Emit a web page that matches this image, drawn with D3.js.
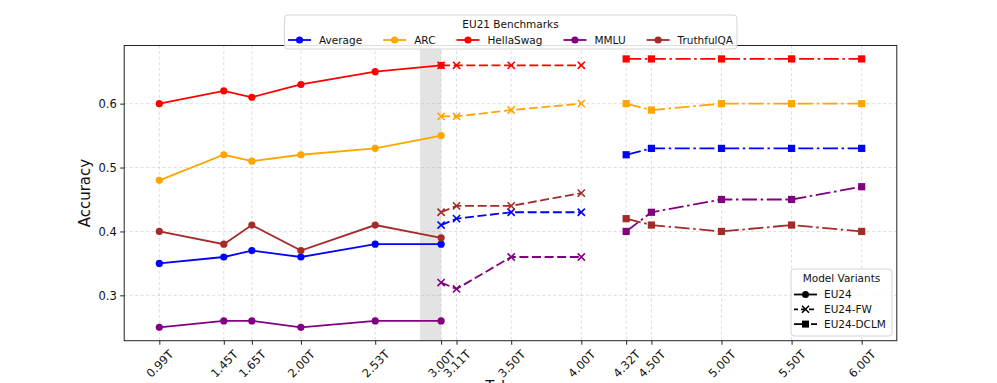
<!DOCTYPE html>
<html><head><meta charset="utf-8">
<script src="https://cdn.jsdelivr.net/npm/d3@7"></script>
<style>body{margin:0;background:#fff}svg{display:block;font-family:"DejaVu Sans",sans-serif}</style>
</head><body><svg id="chart" width="997" height="383"></svg>
<script>
// ---------- data ----------
const benchmarks = ["Average", "ARC", "HellaSwag", "MMLU", "TruthfulQA"];
const variants = ["EU24", "EU24-FW", "EU24-DCLM"];

const eu24Tokens = [0.99, 1.45, 1.65, 2.00, 2.53, 3.00];
const eu24Average    = [0.35, 0.36, 0.37, 0.36, 0.38, 0.38];
const eu24ARC        = [0.48, 0.52, 0.51, 0.52, 0.53, 0.55];
const eu24HellaSwag  = [0.60, 0.62, 0.61, 0.63, 0.65, 0.66];
const eu24MMLU       = [0.25, 0.26, 0.26, 0.25, 0.26, 0.26];
const eu24TruthfulQA = [0.40, 0.38, 0.41, 0.37, 0.41, 0.39];

const fwTokens = [3.00, 3.11, 3.50, 4.00];
const fwAverage    = [0.41, 0.42, 0.43, 0.43];
const fwARC        = [0.58, 0.58, 0.59, 0.60];
const fwHellaSwag  = [0.66, 0.66, 0.66, 0.66];
const fwMMLU       = [0.32, 0.31, 0.36, 0.36];
const fwTruthfulQA = [0.43, 0.44, 0.44, 0.46];

const dclmTokens = [4.32, 4.50, 5.00, 5.50, 6.00];
const dclmAverage    = [0.52, 0.53, 0.53, 0.53, 0.53];
const dclmARC        = [0.60, 0.59, 0.60, 0.60, 0.60];
const dclmHellaSwag  = [0.67, 0.67, 0.67, 0.67, 0.67];
const dclmMMLU       = [0.40, 0.43, 0.45, 0.45, 0.47];
const dclmTruthfulQA = [0.42, 0.41, 0.40, 0.41, 0.40];

const xTickValues = [0.99, 1.45, 1.65, 2.00, 2.53, 3.00, 3.11, 3.50, 4.00, 4.32, 4.50, 5.00, 5.50, 6.00];
const yTickValues = [0.3, 0.4, 0.5, 0.6];
const highlightSpan = [2.85, 3.00];

// ---------- styles ----------
const colors = {Average: "#0000ff", ARC: "#ffa500", HellaSwag: "#ff0000", MMLU: "#800080", TruthfulQA: "#a52a2a"};
const variantStyle = {
  "EU24": {dash: null, marker: "circle"},
  "EU24-FW": {dash: "9,3.6", marker: "x"},
  "EU24-DCLM": {dash: "15,3.6,2.5,3.6", marker: "square"}
};
const valueTable = {
  "EU24": {tokens: eu24Tokens, Average: eu24Average, ARC: eu24ARC, HellaSwag: eu24HellaSwag, MMLU: eu24MMLU, TruthfulQA: eu24TruthfulQA},
  "EU24-FW": {tokens: fwTokens, Average: fwAverage, ARC: fwARC, HellaSwag: fwHellaSwag, MMLU: fwMMLU, TruthfulQA: fwTruthfulQA},
  "EU24-DCLM": {tokens: dclmTokens, Average: dclmAverage, ARC: dclmARC, HellaSwag: dclmHellaSwag, MMLU: dclmMMLU, TruthfulQA: dclmTruthfulQA}
};

// ---------- layout ----------
const W = 997, H = 383;
const L = 124.2, R = 896.8, T = 45.5, B = 340.7;
const svg = d3.select("#chart");
svg.append("rect").attr("width", W).attr("height", H).attr("fill", "#fff");

const xAll = xTickValues;
const xMin = d3.min(xAll), xMax = d3.max(xAll), xPad = (xMax - xMin) * 0.05;
const x = d3.scaleLinear().domain([xMin - xPad, xMax + xPad]).range([L, R]);
const allY = [].concat(...variants.map(v => benchmarks.map(b => valueTable[v][b])).flat());
const yMin = d3.min(allY), yMax = d3.max(allY), yPad = (yMax - yMin) * 0.05;
const y = d3.scaleLinear().domain([yMin - yPad, yMax + yPad]).range([B, T]);

// highlight span
svg.append("rect")
  .attr("x", x(highlightSpan[0])).attr("y", T)
  .attr("width", x(highlightSpan[1]) - x(highlightSpan[0])).attr("height", B - T)
  .attr("fill", "#808080").attr("fill-opacity", 0.22);

// grid
const grid = svg.append("g").attr("stroke", "#b0b0b0").attr("stroke-opacity", 0.55)
  .attr("stroke-width", 0.8).attr("stroke-dasharray", "3,2.5");
xTickValues.forEach(v => grid.append("line").attr("x1", x(v)).attr("x2", x(v)).attr("y1", T).attr("y2", B));
yTickValues.forEach(v => grid.append("line").attr("x1", L).attr("x2", R).attr("y1", y(v)).attr("y2", y(v)));

// series
const line = d3.line().x(d => x(d[0])).y(d => y(d[1]));
function drawMarker(g, type, cx, cy, color, s) {
  if (type === "circle") {
    g.append("circle").attr("cx", cx).attr("cy", cy).attr("r", s / 2).attr("fill", color);
  } else if (type === "square") {
    g.append("rect").attr("x", cx - s / 2).attr("y", cy - s / 2).attr("width", s).attr("height", s).attr("fill", color);
  } else {
    const h = s / 2;
    g.append("path").attr("d", `M${cx - h},${cy - h}L${cx + h},${cy + h}M${cx - h},${cy + h}L${cx + h},${cy - h}`)
      .attr("stroke", color).attr("stroke-width", 1.6).attr("fill", "none");
  }
}
const plot = svg.append("g");
benchmarks.forEach(b => {
  variants.forEach(v => {
    const tk = valueTable[v].tokens, vals = valueTable[v][b];
    const pts = tk.map((t, i) => [t, vals[i]]);
    const st = variantStyle[v];
    plot.append("path").attr("d", line(pts)).attr("fill", "none")
      .attr("stroke", colors[b]).attr("stroke-width", 1.8)
      .attr("stroke-dasharray", st.dash);
    pts.forEach(p => drawMarker(plot, st.marker, x(p[0]), y(p[1]), colors[b], 7.2));
  });
});

// axes frame
svg.append("rect").attr("x", L).attr("y", T).attr("width", R - L).attr("height", B - T)
  .attr("fill", "none").attr("stroke", "#222").attr("stroke-width", 1);

const xAxisG = svg.append("g").attr("transform", `translate(0,${B})`)
  .call(d3.axisBottom(x).tickValues(xTickValues).tickFormat(d => d3.format(".2f")(d) + "T").tickSize(4).tickSizeOuter(0));
xAxisG.select(".domain").remove();
xAxisG.selectAll(".tick line").attr("stroke", "#222");
xAxisG.selectAll(".tick text").attr("font-size", 11.5).attr("font-family", "DejaVu Sans").attr("fill", "#111")
  .each(function () {
    const w = this.getComputedTextLength();
    const h = 11.5;
    d3.select(this).attr("text-anchor", "end").attr("x", 0).attr("y", 0).attr("dy", "0.35em")
      .attr("transform", `translate(${w * 0.354},${4 + 3.5 + h * 0.354}) rotate(-45)`);
  });

const yAxisG = svg.append("g").attr("transform", `translate(${L},0)`)
  .call(d3.axisLeft(y).tickValues(yTickValues).tickFormat(d3.format(".1f")).tickSize(4).tickSizeOuter(0));
yAxisG.select(".domain").remove();
yAxisG.selectAll(".tick line").attr("stroke", "#222");
yAxisG.selectAll(".tick text").attr("font-size", 11.5).attr("font-family", "DejaVu Sans").attr("fill", "#111").attr("x", -7.5);

svg.append("text").attr("transform", `translate(85,${(T + B) / 2}) rotate(-90)`)
  .attr("text-anchor", "middle").attr("dy", "0.35em").attr("font-size", 15).attr("fill", "#111").text("Accuracy");
svg.append("text").attr("x", (L + R) / 2).attr("y", 392).attr("text-anchor", "middle")
  .attr("font-size", 15).attr("fill", "#111").text("Tokens");

// ---------- legend 1 (benchmarks) ----------
const fs = 10.5;
const leg1 = svg.append("g");
const leg1Box = leg1.append("rect");
const handleLen = 23, handlePad = 8, colSpace = 21;
let cx = 0;
const items = [];
benchmarks.forEach(b => {
  const g = leg1.append("g");
  g.append("line").attr("x1", 0).attr("x2", handleLen).attr("y1", 0).attr("y2", 0)
    .attr("stroke", colors[b]).attr("stroke-width", 1.8);
  drawMarker(g, "circle", handleLen / 2, 0, colors[b], 7.2);
  const t = g.append("text").attr("x", handleLen + handlePad).attr("dy", "0.35em")
    .attr("font-size", fs).attr("fill", "#111").text(b);
  const tw = t.node().getComputedTextLength();
  items.push({g, off: cx});
  cx += handleLen + handlePad + tw + colSpace;
});
const totalW = cx - colSpace;
const startX = (L + R) / 2 - totalW / 2;
items.forEach(it => it.g.attr("transform", `translate(${startX + it.off},40)`));
leg1.append("text").attr("x", (L + R) / 2).attr("y", 24).attr("dy", "0.35em").attr("text-anchor", "middle")
  .attr("font-size", fs).attr("fill", "#111").text("EU21 Benchmarks");
leg1Box.attr("x", startX - 3.5).attr("y", 15).attr("width", totalW + 7.5).attr("height", 34).attr("rx", 3)
  .attr("fill", "#fff").attr("fill-opacity", 0.85).attr("stroke", "#d0d0d0").attr("stroke-width", 0.9);

// ---------- legend 2 (variants) ----------
const leg2 = svg.append("g");
leg2.append("rect").attr("x", 791).attr("y", 269).attr("width", 101).attr("height", 67).attr("rx", 3)
  .attr("fill", "#fff").attr("fill-opacity", 0.85).attr("stroke", "#d0d0d0").attr("stroke-width", 0.9);
leg2.append("text").attr("x", 841.5).attr("y", 278.5).attr("dy", "0.35em").attr("text-anchor", "middle")
  .attr("font-size", fs).attr("fill", "#111").text("Model Variants");
variants.forEach((v, i) => {
  const yy = 294.5 + i * 14.8;
  const g = leg2.append("g").attr("transform", `translate(794,${yy})`);
  const st = variantStyle[v];
  g.append("line").attr("x1", 0).attr("x2", handleLen).attr("y1", 0).attr("y2", 0)
    .attr("stroke", "#000").attr("stroke-width", 1.8).attr("stroke-dasharray", st.dash ? (v === "EU24-FW" ? "5,3" : "9,3,2,3") : null)
    .attr("stroke-dashoffset", v === "EU24-FW" ? 1 : 0);
  drawMarker(g, st.marker, handleLen / 2, 0, "#000", 7);
  g.append("text").attr("x", handleLen + 7).attr("dy", "0.35em").attr("font-size", fs).attr("fill", "#111").text(v);
});
</script>
</body></html>
